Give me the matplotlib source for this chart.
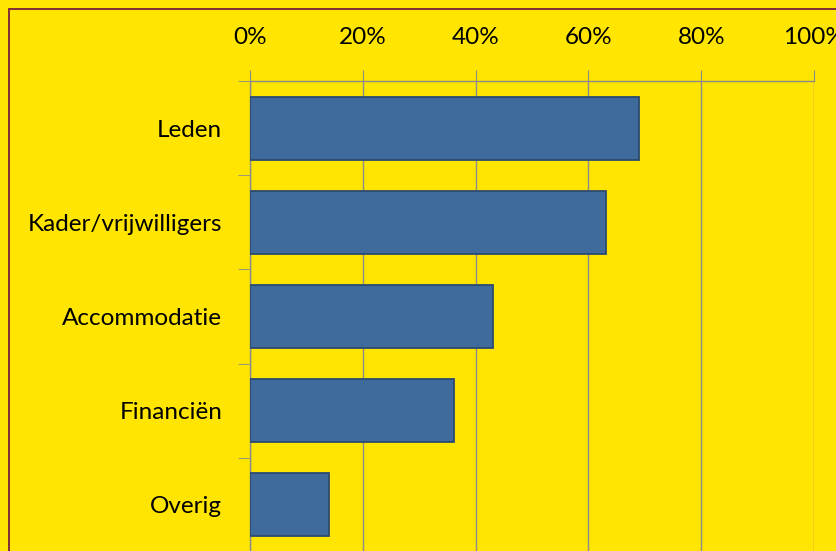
import numpy as np
import matplotlib.pyplot as plt
from matplotlib.patches import Rectangle
from matplotlib.ticker import FuncFormatter

plt.rcParams['font.family'] = ['Lato', 'DejaVu Sans']

categories = ["Leden", "Kader/vrijwilligers", "Accommodatie", "Financiën", "Overig"]
values = [69.0, 63.1, 43.0, 36.1, 14.0]
x_ticks = [0, 20, 40, 60, 80, 100]

yellow = "#FFE500"
bar_color = "#3E6A9C"
grid_color = "#8C8C8C"

fig = plt.figure(figsize=(8.37, 5.51), dpi=100)
fig.patch.set_facecolor(yellow)

# outer chart border (cut off at right and bottom)
fig.patches.append(Rectangle((9 / 837, -0.1), 1.2, 1 - 9 / 551 + 0.1,
                             transform=fig.transFigure, fill=False,
                             edgecolor="#7A1E3C", linewidth=1.3))

ax = fig.add_axes([250 / 837, -1 / 551, 564 / 837, 471 / 551])
ax.set_facecolor(yellow)

y = np.arange(len(categories))
ax.barh(y, values, height=0.67, color=bar_color, edgecolor="#2C4A70", linewidth=1.3, zorder=3)

ax.set_xlim(0, 100)
ax.set_ylim(len(categories) - 0.5, -0.5)

ax.xaxis.tick_top()
ax.set_xticks(x_ticks)
ax.xaxis.set_major_formatter(FuncFormatter(lambda v, p: f"{v:.0f}%"))
ax.tick_params(axis='x', which='major', length=8, color=grid_color, pad=15.5, labelsize=17.5)

ax.set_yticks(y)
ax.set_yticklabels(categories)
ax.set_yticks(np.arange(len(categories)) - 0.5, minor=True)
ax.tick_params(axis='y', which='major', length=0, pad=20, labelsize=17.5)
ax.tick_params(axis='y', which='minor', length=9, color=grid_color)

ax.grid(axis='x', color=grid_color, linewidth=1, zorder=0)
ax.set_axisbelow(True)

for side in ["right", "bottom"]:
    ax.spines[side].set_visible(False)
for side in ["top", "left"]:
    ax.spines[side].set_color(grid_color)
    ax.spines[side].set_linewidth(1)

plt.savefig("out.png", dpi=100, facecolor=yellow)
